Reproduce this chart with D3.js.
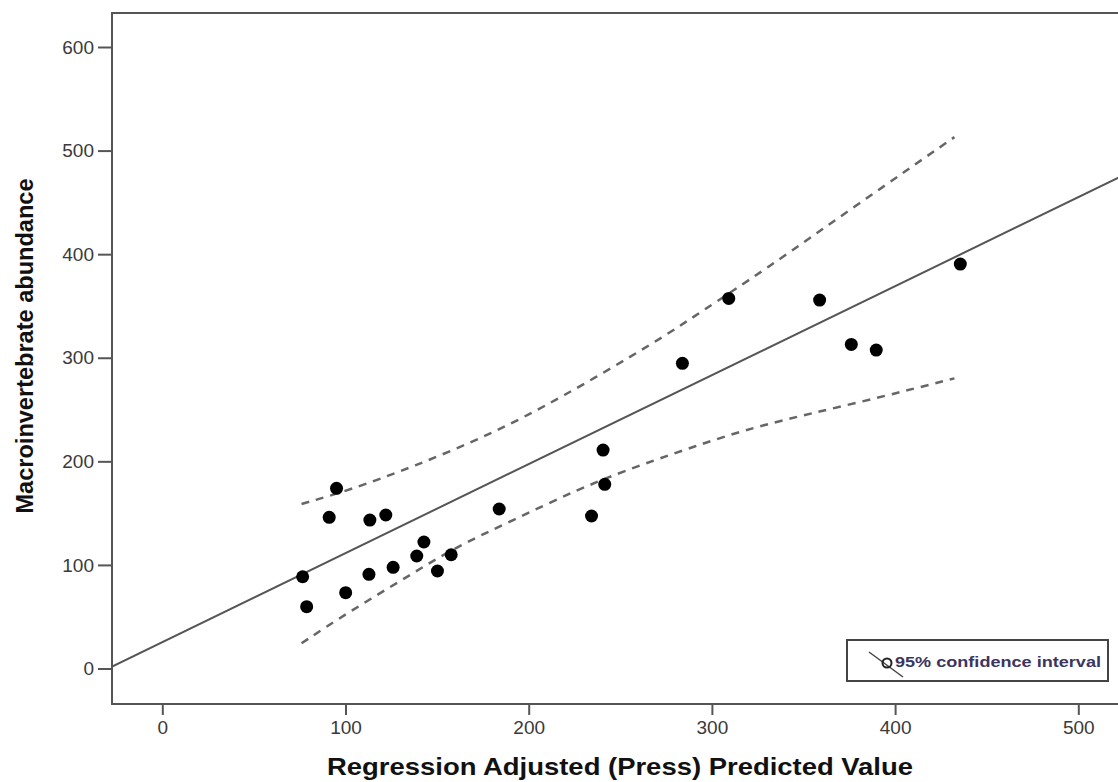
<!DOCTYPE html>
<html>
<head>
<meta charset="utf-8">
<script src="https://cdn.jsdelivr.net/npm/d3@7"></script>
<style>
  body { margin: 0; background: #fff; }
  svg { display: block; font-family: "Liberation Sans", Arial, sans-serif; }
</style>
</head>
<body>
<script>
var predicted = [76.6, 78.8, 91.1, 95.1, 100.1, 112.8, 113.3, 122.0, 126.0, 138.9, 142.8, 150.2,
  157.7, 183.9, 234.3, 240.6, 241.5, 283.9, 309.2, 358.8, 376.1, 389.7, 435.6]
var abundance = [88.6, 59.7, 145.9, 173.9, 73.2, 90.9, 143.3, 148.2, 97.7, 108.6, 122.1, 94.1,
  109.8, 154.0, 147.2, 210.9, 177.8, 294.6, 357.3, 355.7, 312.9, 307.4, 390.4]

// fit line
var fitIntercept = 25.5
var fitSlope = 0.859

// 95% confidence band
var ciUpperX = [76.0, 102.4, 136.8, 178.8, 216.7, 271.3, 293.2, 328.8, 380.6, 432.4]
var ciUpperY = [158.8, 172.3, 194.7, 225.6, 260.3, 317.3, 343.4, 384.7, 449.4, 513.0]
var ciLowerX = [76.0, 100.6, 136.9, 158.8, 191.5, 226.1, 253.4, 289.7, 326.1, 378.8, 432.4]
var ciLowerY = [24.3, 53.3, 91.9, 116.0, 143.3, 172.3, 191.6, 214.1, 235.0, 256.0, 280.1]

var xTicks = [0, 100, 200, 300, 400, 500]
var yTicks = [0, 100, 200, 300, 400, 500, 600]

var width = 1118, height = 782
var frame = {left: 112, top: 13, bottom: 704, right: 1135}

var svg = d3.select('body')
  .append('svg')
  .attr('width', width)
  .attr('height', height)

var x = d3.scaleLinear().domain([0, 500]).range([162.3, 1078.3])
var y = d3.scaleLinear().domain([0, 600]).range([668.5, 47])

svg.append('clipPath')
  .attr('id', 'plot')
  .append('rect')
  .attr('x', frame.left)
  .attr('y', frame.top)
  .attr('width', frame.right - frame.left)
  .attr('height', frame.bottom - frame.top)

// axes
var xAxis = svg.append('g')
  .attr('transform', 'translate(0,' + frame.bottom + ')')
  .call(d3.axisBottom(x).tickValues(xTicks).tickSize(11).tickSizeOuter(0).tickPadding(6))
var yAxis = svg.append('g')
  .attr('transform', 'translate(' + frame.left + ',0)')
  .call(d3.axisLeft(y).tickValues(yTicks).tickSize(14).tickSizeOuter(0).tickPadding(4))

;[xAxis, yAxis].forEach(function(g) {
  g.select('.domain').remove()
  g.selectAll('line').attr('stroke', '#555').attr('stroke-width', 2)
  g.selectAll('text')
    .attr('fill', '#3a3a3a')
    .style('font-size', '19px')
    .style('font-family', '"Liberation Sans", Arial, sans-serif')
})

// frame
svg.append('rect')
  .attr('x', frame.left)
  .attr('y', frame.top)
  .attr('width', frame.right - frame.left)
  .attr('height', frame.bottom - frame.top)
  .attr('fill', 'none')
  .attr('stroke', '#555')
  .attr('stroke-width', 2)

var plot = svg.append('g').attr('clip-path', 'url(#plot)')

// regression line
plot.append('line')
  .attr('x1', x(-40)).attr('y1', y(fitIntercept + fitSlope * -40))
  .attr('x2', x(540)).attr('y2', y(fitIntercept + fitSlope * 540))
  .attr('stroke', '#555')
  .attr('stroke-width', 2)

var curve = d3.line()
  .x(function(d) { return x(d[0]) })
  .y(function(d) { return y(d[1]) })
  .curve(d3.curveBasis)

;[d3.zip(ciUpperX, ciUpperY), d3.zip(ciLowerX, ciLowerY)].forEach(function(pts) {
  plot.append('path')
    .attr('d', curve(pts))
    .attr('fill', 'none')
    .attr('stroke', '#666')
    .attr('stroke-width', 2.5)
    .attr('stroke-dasharray', '8,7')
})

// points
plot.selectAll('.dot')
  .data(d3.zip(predicted, abundance))
  .enter()
  .append('circle')
  .classed('dot', true)
  .attr('cx', function(d) { return x(d[0]) })
  .attr('cy', function(d) { return y(d[1]) })
  .attr('r', 6.5)
  .attr('fill', '#000')

// legend
var legend = svg.append('g')
legend.append('rect')
  .attr('x', 847).attr('y', 640)
  .attr('width', 261).attr('height', 41)
  .attr('fill', '#fff')
  .attr('stroke', '#444')
  .attr('stroke-width', 2)
legend.append('line')
  .attr('x1', 869).attr('y1', 652)
  .attr('x2', 903).attr('y2', 677)
  .attr('stroke', '#444')
  .attr('stroke-width', 1.5)
legend.append('circle')
  .attr('cx', 887).attr('cy', 663).attr('r', 4.5)
  .attr('fill', 'none')
  .attr('stroke', '#222')
  .attr('stroke-width', 2)
legend.append('text')
  .attr('x', 895).attr('y', 667)
  .attr('fill', '#3b3560')
  .attr('textLength', 206)
  .attr('lengthAdjust', 'spacingAndGlyphs')
  .style('font-size', '14px')
  .style('font-weight', 'bold')
  .text('95% confidence interval')

// axis titles
svg.append('text')
  .attr('x', 620).attr('y', 775)
  .attr('text-anchor', 'middle')
  .attr('textLength', 586)
  .attr('lengthAdjust', 'spacingAndGlyphs')
  .style('font-size', '24px')
  .style('font-weight', 'bold')
  .attr('fill', '#111')
  .text('Regression Adjusted (Press) Predicted Value')

svg.append('text')
  .attr('transform', 'translate(33,346) rotate(-90)')
  .attr('text-anchor', 'middle')
  .attr('textLength', 335)
  .attr('lengthAdjust', 'spacingAndGlyphs')
  .style('font-size', '23px')
  .style('font-weight', 'bold')
  .attr('fill', '#111')
  .text('Macroinvertebrate abundance')
</script>
</body>
</html>
